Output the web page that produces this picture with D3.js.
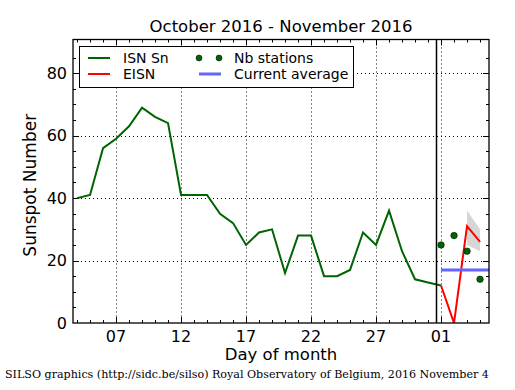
<!DOCTYPE html>
<html>
<head>
<meta charset="utf-8">
<script src="https://cdn.jsdelivr.net/npm/d3@7"></script>
<style>
  body { margin: 0; background: #fff; }
  text { font-family: "DejaVu Sans", sans-serif; fill: #000; }
  text.foot { font-family: "DejaVu Serif", serif; }
</style>
</head>
<body>
<div class="container"></div>
<script>
// day numbers count from Oct 1 = 1, so Nov 1 = 32
var isnDays = [4, 5, 6, 7, 8, 9, 10, 11, 12, 13, 14, 15, 16, 17, 18, 19, 20, 21, 22, 23, 24, 25, 26, 27, 28, 29, 30, 31, 32];
var isnValues = [40, 41, 56, 59, 63, 69, 66, 64, 41, 41, 41, 35, 32, 25, 29, 30, 16, 28, 28, 15, 15, 17, 29, 25, 36, 23, 14, 13, 12];

var eisnDays = [32, 33, 34, 35];
var eisnValues = [12, 0, 31, 26];

var bandDays = [34, 35];
var bandLow = [25, 23];
var bandHigh = [36, 30];

var stationDays = [32, 33, 34, 35];
var stationValues = [25, 28, 23, 14];

var currentAverage = 17;
var monthStart = 31.6;

var xTickDays = [7, 12, 17, 22, 27, 32];
var xTickLabels = ['07', '12', '17', '22', '27', '01'];
var yTicks = [0, 20, 40, 60, 80];

var width = 515, height = 390;
var box = { left: 73, right: 489, top: 39.5, bottom: 323 };

var x = d3.scaleLinear().domain([3.69, 35.69]).range([box.left, box.right]);
var y = d3.scaleLinear().domain([0, 90.8]).range([box.bottom, box.top]);

var svg = d3.select('.container')
  .append('svg')
    .attr('width', width)
    .attr('height', height);

svg.append('defs').append('clipPath').attr('id', 'plot')
  .append('rect')
    .attr('x', box.left).attr('y', box.top)
    .attr('width', box.right - box.left).attr('height', box.bottom - box.top);

// ----------
// grid

var grid = svg.append('g')
    .attr('stroke', '#000')
    .attr('stroke-width', 1)
    .attr('stroke-dasharray', '1,3');

grid.selectAll('.vgrid')
  .data(xTickDays)
  .enter().append('line')
    .attr('x1', function(d) { return Math.round(x(d)) + 0.5; })
    .attr('x2', function(d) { return Math.round(x(d)) + 0.5; })
    .attr('y1', box.top).attr('y2', box.bottom);

grid.selectAll('.hgrid')
  .data(yTicks.slice(1))
  .enter().append('line')
    .attr('y1', function(d) { return Math.round(y(d)) + 0.5; })
    .attr('y2', function(d) { return Math.round(y(d)) + 0.5; })
    .attr('x1', box.left).attr('x2', box.right);

// ----------
// ticks on all four sides, pointing in

var minorX = d3.range(4, 36);
var minorY = d3.range(5, 90, 5);
var ticks = svg.append('g').attr('stroke', '#000').attr('stroke-width', 1);

minorX.forEach(function(d) {
  var len = xTickDays.indexOf(d) >= 0 ? 6 : 3;
  var px = Math.round(x(d)) + 0.5;
  ticks.append('line').attr('x1', px).attr('x2', px).attr('y1', box.bottom).attr('y2', box.bottom - len);
  ticks.append('line').attr('x1', px).attr('x2', px).attr('y1', box.top).attr('y2', box.top + len);
});
minorY.forEach(function(d) {
  var len = d % 20 === 0 ? 6 : 3;
  var py = Math.round(y(d)) + 0.5;
  ticks.append('line').attr('y1', py).attr('y2', py).attr('x1', box.left).attr('x2', box.left + len);
  ticks.append('line').attr('y1', py).attr('y2', py).attr('x1', box.right).attr('x2', box.right - len);
});

// ----------
// data

var plot = svg.append('g').attr('clip-path', 'url(#plot)');

var band = d3.area()
    .x(function(d) { return x(d); })
    .y0(function(d, i) { return y(bandLow[i]); })
    .y1(function(d, i) { return y(bandHigh[i]); });

plot.append('path')
    .attr('d', band(bandDays))
    .attr('fill', '#bbb')
    .attr('fill-opacity', 0.6);

var line = d3.line();

plot.append('path')
    .attr('d', line(isnDays.map(function(d, i) { return [x(d), y(isnValues[i])]; })))
    .attr('fill', 'none')
    .attr('stroke', '#006400')
    .attr('stroke-width', 2);

plot.append('path')
    .attr('d', line(eisnDays.map(function(d, i) { return [x(d), y(eisnValues[i])]; })))
    .attr('fill', 'none')
    .attr('stroke', '#ff0000')
    .attr('stroke-width', 2);

plot.append('line')
    .attr('x1', x(32)).attr('x2', x(35.69))
    .attr('y1', y(currentAverage)).attr('y2', y(currentAverage))
    .attr('stroke', '#6464ff')
    .attr('stroke-width', 3);

plot.selectAll('.station')
  .data(stationDays)
  .enter().append('circle')
    .attr('cx', function(d) { return x(d); })
    .attr('cy', function(d, i) { return y(stationValues[i]); })
    .attr('r', 3.3)
    .attr('fill', '#006400')
    .attr('stroke', '#000')
    .attr('stroke-width', 0.5);

svg.append('line')
    .attr('x1', Math.round(x(monthStart)) + 0.5).attr('x2', Math.round(x(monthStart)) + 0.5)
    .attr('y1', box.top).attr('y2', box.bottom)
    .attr('stroke', '#000')
    .attr('stroke-width', 1.5);

// frame
svg.append('rect')
    .attr('x', box.left).attr('y', box.top)
    .attr('width', box.right - box.left).attr('height', box.bottom - box.top)
    .attr('fill', 'none')
    .attr('stroke', '#000')
    .attr('stroke-width', 1.3);

// ----------
// labels

svg.selectAll('.xlabel')
  .data(xTickDays)
  .enter().append('text')
    .attr('x', function(d) { return x(d); })
    .attr('y', box.bottom + 19)
    .style('text-anchor', 'middle')
    .style('font-size', '16px')
    .text(function(d, i) { return xTickLabels[i]; });

svg.selectAll('.ylabel')
  .data(yTicks)
  .enter().append('text')
    .attr('x', box.left - 6)
    .attr('y', function(d) { return y(d); })
    .attr('dy', '0.36em')
    .style('text-anchor', 'end')
    .style('font-size', '16px')
    .text(function(d) { return d; });

svg.append('text')
    .attr('x', (box.left + box.right) / 2)
    .attr('y', 32)
    .style('text-anchor', 'middle')
    .style('font-size', '16.5px')
    .text('October 2016 - November 2016');

svg.append('text')
    .attr('x', (box.left + box.right) / 2)
    .attr('y', 360)
    .style('text-anchor', 'middle')
    .style('font-size', '16.5px')
    .text('Day of month');

svg.append('text')
    .attr('transform', 'translate(36,' + ((box.top + box.bottom) / 2 + 4) + ') rotate(-90)')
    .style('text-anchor', 'middle')
    .style('font-size', '17px')
    .text('Sunspot Number');

svg.append('text')
    .attr('class', 'foot')
    .attr('x', 5)
    .attr('y', 378)
    .style('font-size', '11.1px')
    .text('SILSO graphics (http://sidc.be/silso) Royal Observatory of Belgium, 2016 November 4');

// ----------
// legend

var legend = svg.append('g');
legend.append('rect')
    .attr('x', 79.5).attr('y', 46.5)
    .attr('width', 274).attr('height', 41)
    .attr('fill', '#fff')
    .attr('stroke', '#000')
    .attr('stroke-width', 1);

var legendItems = [
  { label: 'ISN Sn', kind: 'line', color: '#006400', w: 2, lx: 88, ly: 58, tx: 123 },
  { label: 'EISN', kind: 'line', color: '#ff0000', w: 2, lx: 88, ly: 74, tx: 123 },
  { label: 'Nb stations', kind: 'dots', color: '#006400', lx: 199, ly: 58, tx: 234 },
  { label: 'Current average', kind: 'line', color: '#6464ff', w: 3, lx: 199, ly: 74, tx: 234 }
];

legendItems.forEach(function(it) {
  if (it.kind === 'line') {
    legend.append('line')
        .attr('x1', it.lx).attr('x2', it.lx + 22)
        .attr('y1', it.ly).attr('y2', it.ly)
        .attr('stroke', it.color)
        .attr('stroke-width', it.w);
  } else {
    [it.lx, it.lx + 20].forEach(function(cx) {
      legend.append('circle')
          .attr('cx', cx).attr('cy', it.ly).attr('r', 3)
          .attr('fill', it.color)
          .attr('stroke', '#000')
          .attr('stroke-width', 0.5);
    });
  }
  legend.append('text')
      .attr('x', it.tx)
      .attr('y', it.ly)
      .attr('dy', '0.35em')
      .style('font-size', '14px')
      .text(it.label);
});
</script>
</body>
</html>
